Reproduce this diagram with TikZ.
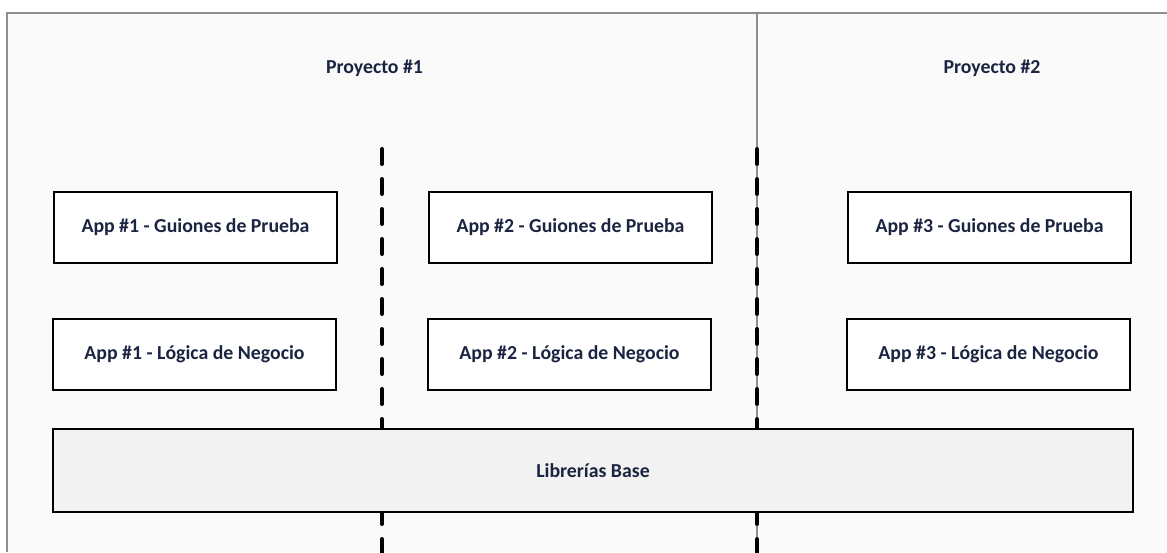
\documentclass[tikz,border=0pt]{standalone}
\usepackage{fontspec}
\setmainfont{Carlito}
\usepackage{tikz}
\usetikzlibrary{positioning,calc}
\definecolor{txtnavy}{HTML}{1B2440}
\definecolor{framegray}{HTML}{8E8E8E}
\definecolor{panelbg}{HTML}{FAFAFA}
\definecolor{basefill}{HTML}{F2F2F2}

\begin{document}
\begin{tikzpicture}[x=1pt,y=-1pt,font=\bfseries\fontsize{19.8}{22}\selectfont]
  % canvas: 1167 x 552, y grows downwards
  \useasboundingbox (0,0) rectangle (1167,552);
  \fill[white] (0,0) rectangle (1167,552);
  \tikzset{appbox/.style={draw=black,line width=2.6pt,fill=white,text=txtnavy,
                          minimum width=283pt,minimum height=71pt,inner sep=0pt},
           sepline/.style={line width=4pt,line cap=round,dash pattern=on 15pt off 15pt},
           title/.style={text=txtnavy,inner sep=0pt}}
  % outer frame (open at right and bottom)
  \fill[panelbg] (7,13) rectangle (1167,552);
  \coordinate (fl) at (7,552);
  \coordinate (ft) at (7,13);
  \coordinate (fr) at (1167,13);
  \draw[framegray,line width=2.5pt] (fl) -- (ft) -- (fr);
  % projects split
  \coordinate (splittop) at (757,13);
  \coordinate (splitmid) at (757,149);
  \coordinate (splitbot) at (757,560);
  \draw[framegray,line width=2.8pt] (splittop) -- (splitbot);
  \coordinate (sepa) at (382,149);
  \coordinate (sepb) at (382,560);
  \draw[sepline] (sepa) -- (sepb);
  \draw[sepline] (splitmid) -- (splitbot);
  % titles
  \node[title] (proy1) at (374.5,68) {Proyecto \#1};
  \node[title] (proy2) at (992,68) {Proyecto \#2};
  % apps
  \node[appbox] (guion1) at (195.5,227.5) {App \#1 - Guiones de Prueba};
  \node[appbox] (logica1) at (194.5,354.5) {App \#1 - Lógica de Negocio};
  \node[appbox] (guion2) at (570.5,227.5) {App \#2 - Guiones de Prueba};
  \node[appbox] (logica2) at (569.5,354.5) {App \#2 - Lógica de Negocio};
  \node[appbox] (guion3) at (989.5,227.5) {App \#3 - Guiones de Prueba};
  \node[appbox] (logica3) at (988.5,354.5) {App \#3 - Lógica de Negocio};
  % shared layer
  \node[appbox,fill=basefill,minimum width=1080pt,minimum height=83pt] (base) at (593,470.5) {Librerías Base};
\end{tikzpicture}
\end{document}
